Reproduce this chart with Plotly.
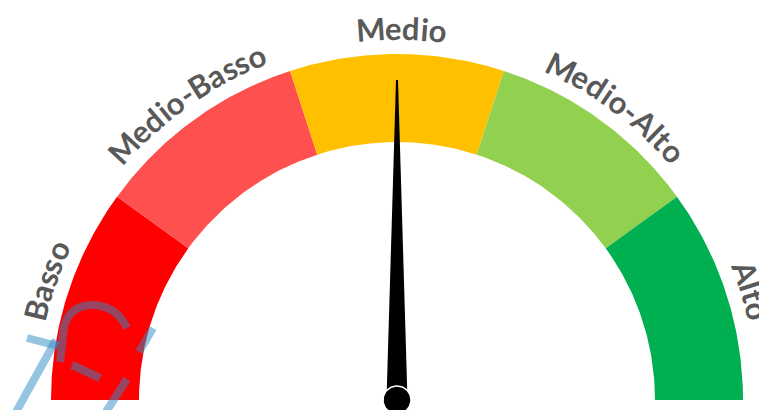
import math
import plotly.graph_objects as go

# ---- data ----
categories = ["Basso", "Medio-Basso", "Medio", "Medio-Alto", "Alto"]
band_sizes = [20, 20, 20, 20, 20]          # gauge scale 0..100
band_colors = ["#FF0000", "#FF5050", "#FFC000", "#92D050", "#00B050"]
needle_value = 50
gauge_min, gauge_max = 0, 100

# ---- geometry / style ----
PAGE_OFF = 8               # default body margin of the html page
W, H = 767, 410
CX, CY = 397, 400          # pivot in screen-pixel data coords (y down)
R_OUT, R_IN = 346, 258
R_TEXT = 372
LABEL_SHIFT_DEG = -0.8     # labels sit a touch clockwise of band centres
SPACING = 1.05
FONT_SIZE = 31
TEXT_COLOR = "#595959"
FONT_FAMILY = "Lato"

# approximate advance widths (em) for the bold font
CHAR_W = {"M": 0.86, "e": 0.53, "d": 0.58, "i": 0.26, "o": 0.57, "-": 0.36,
          "B": 0.64, "a": 0.51, "s": 0.42, "A": 0.69, "l": 0.26, "t": 0.37}


def val2ang(v):
    return math.radians(180 - (v - gauge_min) / (gauge_max - gauge_min) * 180)


def pt(r, a):
    return CX + r * math.cos(a), CY - r * math.sin(a)


fig = go.Figure()

# bands
start = gauge_min
mids = []
for name, size, col in zip(categories, band_sizes, band_colors):
    a0, a1 = val2ang(start), val2ang(start + size)
    n = 60
    xs, ys = [], []
    for k in range(n + 1):
        x, y = pt(R_OUT, a0 + (a1 - a0) * k / n)
        xs.append(x); ys.append(y)
    for k in range(n + 1):
        x, y = pt(R_IN, a1 + (a0 - a1) * k / n)
        xs.append(x); ys.append(y)
    fig.add_trace(go.Scatter(x=xs, y=ys, fill="toself", fillcolor=col,
                             mode="lines", line=dict(width=0, color=col),
                             name=name, hoverinfo="name", showlegend=False))
    mids.append(start + size / 2)
    start += size

# curved labels: one annotation per character
annotations = []
for name, mv in zip(categories, mids):
    amid = val2ang(mv) + math.radians(LABEL_SHIFT_DEG)
    widths = [CHAR_W.get(c, 0.5) * FONT_SIZE * SPACING for c in name]
    total = sum(widths)
    s = -total / 2
    for c, w in zip(name, widths):
        sc = s + w / 2
        a = amid - sc / R_TEXT
        x, y = pt(R_TEXT, a)
        annotations.append(dict(x=x, y=y, xref="x", yref="y", text="<b>%s</b>" % c,
                                showarrow=False, xanchor="center", yanchor="middle",
                                textangle=90 - math.degrees(a), borderpad=0,
                                font=dict(family=FONT_FAMILY, size=FONT_SIZE, color=TEXT_COLOR)))
        s += w

# needle
an = val2ang(needle_value)
tip = pt(320, an)
perp = an + math.pi / 2
base_half, tip_half = 10.5, 1.0
nx = [CX + base_half * math.cos(perp), tip[0] + tip_half * math.cos(perp),
      tip[0] - tip_half * math.cos(perp), CX - base_half * math.cos(perp)]
ny = [CY - base_half * math.sin(perp), tip[1] - tip_half * math.sin(perp),
      tip[1] + tip_half * math.sin(perp), CY + base_half * math.sin(perp)]
fig.add_trace(go.Scatter(x=nx + [nx[0]], y=ny + [ny[0]], fill="toself", fillcolor="black",
                         mode="lines", line=dict(width=0, color="black"),
                         hoverinfo="skip", showlegend=False))

# pivot circle
pc = [pt(14, 2 * math.pi * k / 60) for k in range(61)]
fig.add_trace(go.Scatter(x=[p[0] for p in pc], y=[p[1] for p in pc], fill="toself",
                         fillcolor="black", mode="lines", line=dict(width=1.5, color="white"),
                         hoverinfo="skip", showlegend=False))

# faint watermark strokes (decoration)
wm = "rgba(45,140,195,0.5)"
shapes = []
for p in ["M27,338 L58,346", "M16,412 L56,340",
          "M60,362 L64,327 Q70,304 95,305 Q117,307 127,328",
          "M72,365 L100,378", "M106,412 L127,379", "M139,352 L153,328"]:
    shapes.append(dict(type="path", path=p, xref="x", yref="y",
                       line=dict(color=wm, width=8), layer="above"))

fig.update_layout(
    width=W - PAGE_OFF, height=H - PAGE_OFF, margin=dict(l=0, r=0, t=0, b=0),
    paper_bgcolor="white", plot_bgcolor="white",
    xaxis=dict(range=[PAGE_OFF, W], visible=False, fixedrange=True),
    yaxis=dict(range=[H, PAGE_OFF], visible=False, fixedrange=True),
    annotations=annotations, shapes=shapes, showlegend=False,
)

fig.write_html("out.html")
